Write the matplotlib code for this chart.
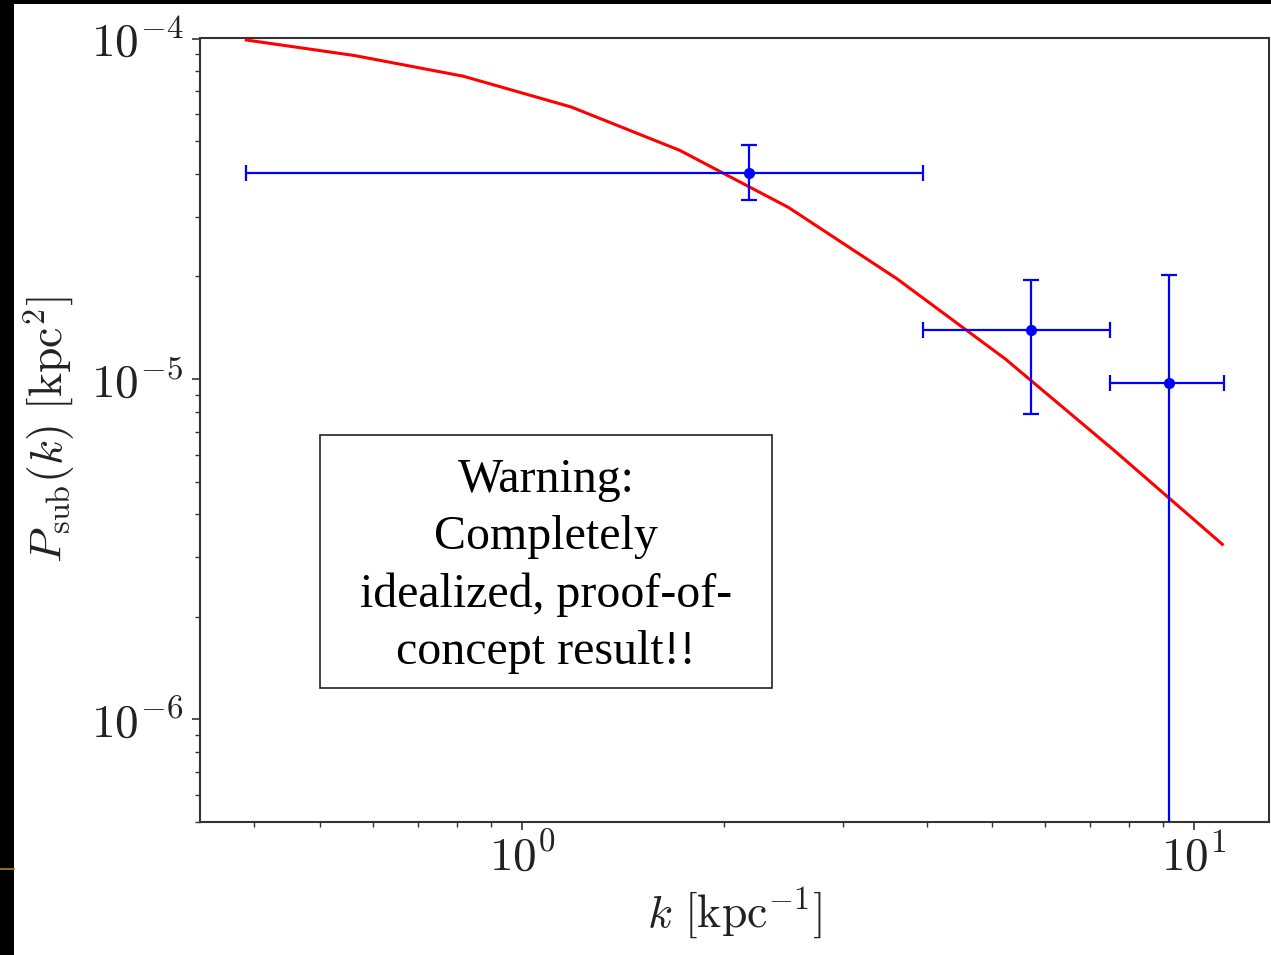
import numpy as np
import matplotlib
matplotlib.use("Agg")
import matplotlib.pyplot as plt
from matplotlib.patches import Rectangle
from matplotlib.lines import Line2D
from matplotlib.ticker import FuncFormatter, NullFormatter, LogLocator

# ---- data ----
k_model = [0.389, 0.564, 0.818, 1.185, 1.719, 2.493, 3.614, 5.240, 7.599, 11.02]
P_model = [9.9e-5, 8.91e-5, 7.75e-5, 6.29e-5, 4.69e-5, 3.19e-5, 1.97e-5, 1.145e-5, 6.18e-6, 3.27e-6]

k_data = [2.174, 5.72, 9.19]
k_lo = [0.389, 3.952, 7.507]
k_hi = [3.952, 7.507, 11.07]
P_data = [4.025e-5, 1.391e-5, 9.71e-6]
P_err_lo = [0.665e-5, 0.604e-5, 1.05e-5]
P_err_hi = [0.855e-5, 0.566e-5, 1.05e-5]

warning_text = "Warning:\nCompletely\nidealized, proof-of-\nconcept result!!"

plt.rcParams['mathtext.fontset'] = 'cm'

W, H = 1271, 955
fig = plt.figure(figsize=(W / 100, H / 100), dpi=100, facecolor='black')
fig.patches.append(Rectangle((14 / W, 0), 1, (H - 4) / H, transform=fig.transFigure,
                             facecolor='white', edgecolor='none', zorder=-10))
fig.lines.append(Line2D([0, 14 / W], [1 - 869 / H, 1 - 869 / H], transform=fig.transFigure,
                        color='#b08a30', lw=1.5, alpha=0.8, zorder=-9))

ax = fig.add_axes([200 / W, (H - 822) / H, (1269 - 200) / W, (822 - 38.5) / H])
ax.set_facecolor('white')
ax.set_xscale('log')
ax.set_yscale('log')

ax.plot(k_model, P_model, color='red', lw=2.2, zorder=3)

k_data_a = np.array(k_data)
xerr = [k_data_a - np.array(k_lo), np.array(k_hi) - k_data_a]
yerr = [P_err_lo, P_err_hi]
ax.errorbar(k_data, P_data, xerr=xerr, yerr=yerr, fmt='o', color='blue',
            ms=7, lw=1.6, capsize=5.5, capthick=1.6, zorder=4)

ax.set_xlim(0.332, 12.93)
ax.set_ylim(5e-7, 1e-4)

fmt = FuncFormatter(lambda v, p: r'$10^{%d}$' % int(round(np.log10(v))))
ax.xaxis.set_major_formatter(fmt)
ax.yaxis.set_major_formatter(fmt)
ax.xaxis.set_minor_formatter(NullFormatter())
ax.yaxis.set_minor_formatter(NullFormatter())
ax.yaxis.set_major_locator(LogLocator(base=10, numticks=10))

for s in ax.spines.values():
    s.set_color('#333333')
    s.set_linewidth(1.5)
ax.tick_params(which='major', length=6, width=1.2, colors='#333333',
               labelsize=34, labelcolor='#222222', pad=6)
ax.tick_params(axis='x', which='major', pad=3)
ax.tick_params(which='minor', length=3.5, width=1.0, colors='#333333')

ax.set_xlabel(r'$k\ [\mathrm{kpc}^{-1}]$', fontsize=33, color='#222222', labelpad=4)
ax.set_ylabel(r'$P_{\rm sub}(k)\ [\mathrm{kpc}^2]$', fontsize=33, color='#222222', labelpad=10)

# warning box
x0, x1 = (320 - 200) / 1069, (771.7 - 200) / 1069
y0, y1 = (822 - 688) / 783.5, (822 - 435) / 783.5
ax.add_patch(Rectangle((x0, y0), x1 - x0, y1 - y0, transform=ax.transAxes,
                       facecolor='white', edgecolor='#222222', lw=1.2, zorder=5))
ax.text((x0 + x1) / 2, (y0 + y1) / 2 - 0.006, warning_text, transform=ax.transAxes,
        ha='center', va='center', multialignment='center',
        family='Liberation Serif', fontsize=34.5, linespacing=1.39, zorder=6)

fig.savefig('out.png', dpi=100, facecolor=fig.get_facecolor())
